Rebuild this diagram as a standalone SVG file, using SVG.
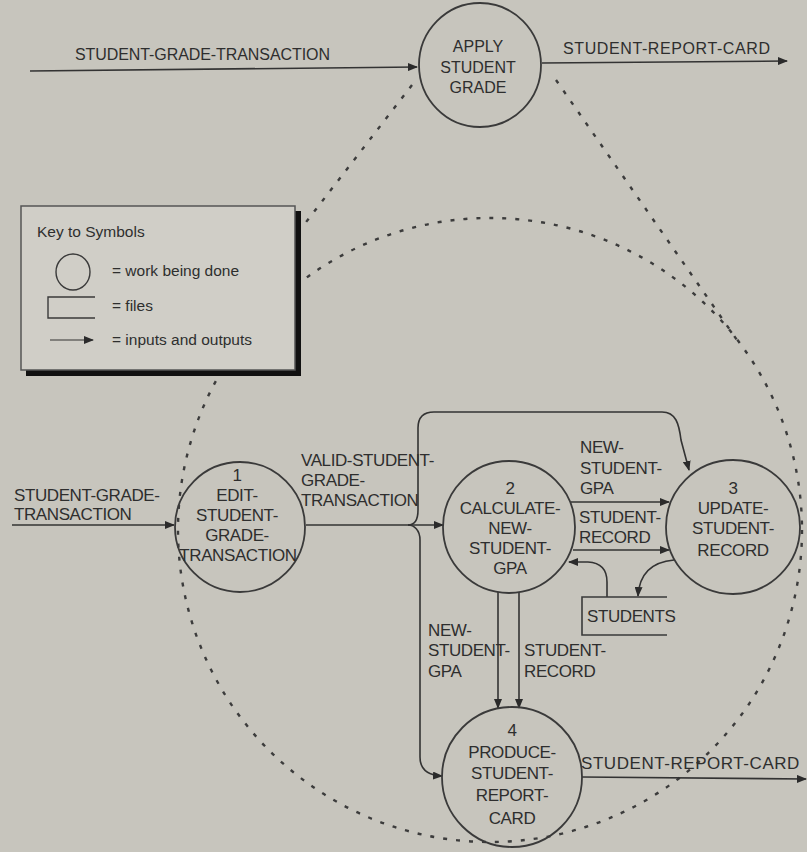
<svg xmlns="http://www.w3.org/2000/svg" width="807" height="852" viewBox="0 0 807 852">
<defs>
<marker id="ah" viewBox="0 0 10 8" refX="9" refY="4" markerWidth="10" markerHeight="8" markerUnits="userSpaceOnUse" orient="auto">
<path d="M0,0 L10,4 L0,8 Z" fill="#2b2b2b"/>
</marker>
</defs>
<style>
text{font-family:"Liberation Sans",Arial,sans-serif;fill:#2e2e2e;}
.t{font-size:16px;}
.l{font-size:17px;letter-spacing:-0.4px;}
.k{font-size:15.5px;}
.c{text-anchor:middle;}
.proc{fill:none;stroke:#3a3a3a;stroke-width:1.8;}
.flow{fill:none;stroke:#333;stroke-width:1.6;}
.arr{marker-end:url(#ah);}
.dot{fill:none;stroke:#3c3c3c;stroke-width:2.4;stroke-dasharray:4 9;}
</style>
<rect width="807" height="852" fill="#c7c5bd"/>

<g id="expansion">
<circle class="dot" cx="490" cy="530" r="312"/>
<line class="dot" x1="412" y1="85" x2="303" y2="226"/>
<line class="dot" x1="556" y1="80" x2="737" y2="340"/>
</g>

<g id="key">
<rect x="26" y="211" width="275" height="165" fill="#111"/>
<rect x="21" y="206" width="274" height="164" fill="#d0cec7" stroke="#555" stroke-width="1.5"/>
<text class="k" x="37" y="237">Key to Symbols</text>
<ellipse cx="73" cy="272" rx="17" ry="18" fill="none" stroke="#3a3a3a" stroke-width="1.4"/>
<text class="k" x="112" y="276">= work being done</text>
<path d="M95,297 L48,297 L48,318 L95,318" fill="none" stroke="#3a3a3a" stroke-width="1.4"/>
<text class="k" x="112" y="311">= files</text>
<line x1="50" y1="340" x2="93" y2="340" stroke="#333" stroke-width="1.2" class="arr"/>
<text class="k" x="112" y="345">= inputs and outputs</text>
</g>

<g id="connectors">
<line class="flow arr" x1="30" y1="71" x2="417" y2="67"/>
<line class="flow arr" x1="542" y1="63" x2="787" y2="61"/>
<line class="flow arr" x1="12" y1="525" x2="174" y2="525"/>
<line class="flow arr" x1="306" y1="525" x2="443" y2="525"/>
<path class="flow arr" d="M408,525 C414,525 418,520 418,510 L418,428 Q418,412 434,412 L662,412 C676,412 679,424 681,440 L689,470"/>
<path class="flow arr" d="M408,525 C414,525 420,530 420,540 L420,757 Q420,775 442,776"/>
<line class="flow arr" x1="571" y1="502" x2="669" y2="502"/>
<line class="flow arr" x1="573" y1="550" x2="669" y2="550"/>
<path class="flow arr" d="M607,597 L607,582 Q607,563 588,562 L569,562"/>
<path class="flow arr" d="M674,560 Q640,563 638,596"/>
<line class="flow arr" x1="498" y1="592" x2="498" y2="708"/>
<line class="flow arr" x1="519" y1="592" x2="519" y2="708"/>
<line class="flow arr" x1="582" y1="777" x2="806" y2="779"/>
</g>

<g id="flow-labels">
<text class="t" x="75" y="60" textLength="255">STUDENT-GRADE-TRANSACTION</text>
<text class="t" x="563" y="54" textLength="207">STUDENT-REPORT-CARD</text>
<text class="l" x="14" y="501">STUDENT-GRADE-</text>
<text class="l" x="14" y="520">TRANSACTION</text>
<text class="l" x="301" y="466">VALID-STUDENT-</text>
<text class="l" x="301" y="486">GRADE-</text>
<text class="l" x="301" y="506">TRANSACTION</text>
<text class="l" x="580" y="453">NEW-</text>
<text class="l" x="580" y="474">STUDENT-</text>
<text class="l" x="580" y="494">GPA</text>
<text class="l" x="579" y="523">STUDENT-</text>
<text class="l" x="579" y="543">RECORD</text>
<text class="l" x="428" y="636">NEW-</text>
<text class="l" x="428" y="656">STUDENT-</text>
<text class="l" x="428" y="677">GPA</text>
<text class="l" x="524" y="656">STUDENT-</text>
<text class="l" x="524" y="677">RECORD</text>
<text class="l" x="581" y="769" textLength="218">STUDENT-REPORT-CARD</text>
</g>

<g id="apply-student-grade">
<ellipse class="proc" cx="480" cy="65" rx="61" ry="62"/>
<text class="t c" x="478" y="52">APPLY</text>
<text class="t c" x="478" y="73">STUDENT</text>
<text class="t c" x="478" y="93">GRADE</text>
</g>

<g id="p1">
<circle class="proc" cx="240" cy="527" r="65"/>
<text class="l c" x="237" y="481">1</text>
<text class="l c" x="237" y="501">EDIT-</text>
<text class="l c" x="237" y="521">STUDENT-</text>
<text class="l c" x="237" y="541">GRADE-</text>
<text class="l c" x="238" y="561">TRANSACTION</text>
</g>

<g id="p2">
<circle class="proc" cx="509" cy="527" r="66"/>
<text class="l c" x="510" y="494">2</text>
<text class="l c" x="510" y="514">CALCULATE-</text>
<text class="l c" x="510" y="534">NEW-</text>
<text class="l c" x="510" y="554">STUDENT-</text>
<text class="l c" x="510" y="574">GPA</text>
</g>

<g id="p3">
<circle class="proc" cx="733" cy="527" r="67"/>
<text class="l c" x="733" y="494">3</text>
<text class="l c" x="733" y="514">UPDATE-</text>
<text class="l c" x="733" y="534">STUDENT-</text>
<text class="l c" x="733" y="556">RECORD</text>
</g>

<g id="p4">
<circle class="proc" cx="512" cy="777" r="70"/>
<text class="l c" x="512" y="736">4</text>
<text class="l c" x="512" y="758">PRODUCE-</text>
<text class="l c" x="512" y="779">STUDENT-</text>
<text class="l c" x="512" y="801">REPORT-</text>
<text class="l c" x="512" y="824">CARD</text>
</g>

<g id="students">
<path d="M667,597 L582,597 L582,635 L667,635" fill="none" stroke="#3a3a3a" stroke-width="1.6"/>
<text class="l" x="587" y="622">STUDENTS</text>
</g>
</svg>
